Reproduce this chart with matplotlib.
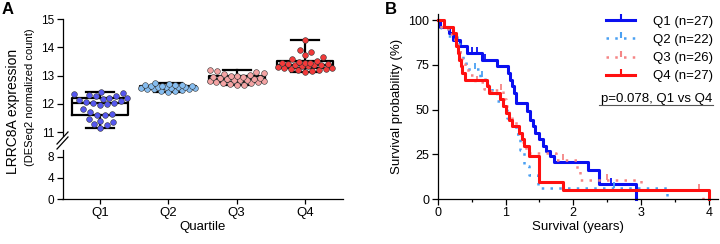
import numpy as np
import matplotlib
matplotlib.use("Agg")
import matplotlib.pyplot as plt
from matplotlib.lines import Line2D

plt.rcParams["font.family"] = ["Liberation Sans", "DejaVu Sans"]
plt.rcParams["font.size"] = 9

## Panel A data: LRRC8A expression per quartile
quartiles = ["Q1", "Q2", "Q3", "Q4"]
q1_expr = [11.14, 11.24, 11.27, 11.35, 11.40, 11.45, 11.60, 11.62, 11.65, 11.72,
           11.80, 11.95, 11.98, 12.02, 12.04, 12.06, 12.10, 12.15, 12.17, 12.19,
           12.21, 12.26, 12.28, 12.30, 12.33, 12.38, 12.42]
q2_expr = [12.42, 12.45, 12.47, 12.50, 12.51, 12.53, 12.54, 12.55, 12.56, 12.57,
           12.58, 12.59, 12.60, 12.61, 12.62, 12.63, 12.64, 12.65, 12.66, 12.68,
           12.70, 12.72]
q3_expr = [12.65, 12.68, 12.70, 12.72, 12.74, 12.76, 12.78, 12.80, 12.81, 12.83,
           12.84, 12.85, 12.86, 12.88, 12.90, 12.92, 12.94, 12.96, 12.98, 13.00,
           13.03, 13.06, 13.09, 13.12, 13.15, 13.18]
q4_expr = [13.12, 13.15, 13.18, 13.20, 13.22, 13.24, 13.26, 13.28, 13.30, 13.32,
           13.34, 13.36, 13.37, 13.38, 13.40, 13.41, 13.43, 13.44, 13.46, 13.48,
           13.52, 13.58, 13.66, 13.72, 13.85, 13.90, 14.26]
expr_colors = ["#5557ee", "#86bdf0", "#f4a3a3", "#f23a3a"]

## Panel B data: Kaplan-Meier steps (time in years, survival %)
q1_t = [0, 0.03, 0.17, 0.22, 0.33, 0.43, 0.65, 0.87, 1.04, 1.07, 1.10, 1.13, 1.16,
        1.31, 1.36, 1.40, 1.44, 1.49, 1.55, 1.60, 1.66, 1.71, 2.22, 2.38, 2.92]
q1_s = [100, 96.3, 92.6, 88.9, 85.2, 81.5, 77.8, 74.1, 70.4, 66.7, 63.0, 59.3, 53.5,
        48.9, 44.4, 40.7, 37.0, 33.3, 29.6, 27.0, 24.0, 20.4, 16.3, 8.2, 0]
q1_cens = [0.50, 0.58, 0.70, 1.05, 2.56]

q2_t = [0, 0.05, 0.15, 0.28, 0.33, 0.38, 0.42, 0.62, 0.70, 0.80, 0.88, 0.96, 1.02,
        1.10, 1.15, 1.22, 1.28, 1.34, 1.48, 3.38]
q2_s = [100, 95.5, 90.9, 86.4, 81.8, 77.3, 72.7, 68.2, 63.6, 59.1, 54.5, 50.0, 45.5,
        40.9, 36.4, 27.3, 18.2, 13.6, 6.1, 0]
q2_cens = [0.55, 0.65, 2.6]

q3_t = [0, 0.05, 0.15, 0.25, 0.30, 0.33, 0.36, 0.40, 0.45, 0.55, 0.68, 0.78, 0.85,
        0.96, 1.00, 1.05, 1.10, 1.15, 1.20, 1.25, 1.30, 1.75, 2.05, 2.10, 3.00, 3.92]
q3_s = [100, 96.2, 92.3, 88.5, 84.6, 80.8, 76.9, 73.1, 69.2, 65.4, 61.5, 59.6, 61.0,
        56.0, 52.0, 48.0, 44.0, 40.0, 36.0, 32.0, 25.5, 22.0, 17.0, 10.5, 5.2, 0]
q3_cens = [0.58, 0.93, 1.20, 1.85, 2.50, 3.85]

q4_t = [0, 0.10, 0.22, 0.27, 0.30, 0.32, 0.34, 0.36, 0.40, 0.72, 0.76, 0.92, 0.96,
        1.00, 1.05, 1.10, 1.20, 1.24, 1.28, 1.34, 1.49, 1.85, 4.0]
q4_s = [100, 96.3, 92.6, 85.2, 81.5, 77.8, 74.1, 70.4, 66.7, 63.0, 59.3, 55.6, 51.9,
        48.1, 44.4, 40.7, 37.0, 33.3, 29.6, 24.0, 9.6, 4.8, 0]
q4_cens = []

km_labels = ["Q1 (n=27)", "Q2 (n=22)", "Q3 (n=26)", "Q4 (n=27)"]
km_colors = ["#0a10f0", "#4aa0f2", "#f58585", "#ff1010"]
p_text = "p=0.078, Q1 vs Q4"

## upward censor tick
TICK = [(0, 0), (0, 1)]


def swarm_offsets(vals, xscale, yscale, min_d=7.0, max_w=27.0):
    ## greedy beeswarm in pixel space; falls back to the roomiest slot
    cands = [0.0]
    for k in np.arange(0.5, max_w + 0.01, 0.5):
        cands += [k, -k]
    placed = []
    offs = np.zeros(len(vals))
    for i in np.argsort(vals):
        y = vals[i] * yscale
        best, best_d = 0.0, -1
        for c in cands:
            if not placed:
                best = c
                break
            d = min(np.hypot(c - px, y - py) for px, py in placed)
            if d >= min_d:
                best = c
                break
            if d > best_d:
                best, best_d = c, d
        placed.append((best, y))
        offs[i] = best / xscale
    return offs


def step_value(t, s, x):
    i = np.searchsorted(t, x, side="right") - 1
    return s[max(i, 0)]


W, H = 720, 244
fig = plt.figure(figsize=(7.2, 2.44), dpi=100)

## ---- Panel A ----
left, right = 62.5 / W, 343 / W
ax_top = fig.add_axes([left, 1 - 136 / H, right - left, (136 - 19) / H])
ax_bot = fig.add_axes([left, 1 - 199 / H, right - left, (199 - 150) / H])
xlim = (-0.55, 3.56)

groups = [q1_expr, q2_expr, q3_expr, q4_expr]
ax_top.boxplot(groups, positions=range(4), widths=0.82, whis=(0, 100),
               showfliers=False, capwidths=0.41, manage_ticks=False,
               boxprops=dict(color="black", linewidth=1.6),
               whiskerprops=dict(color="black", linewidth=1.6),
               capprops=dict(color="black", linewidth=1.6),
               medianprops=dict(color="black", linewidth=1.6), zorder=2)

for a in (ax_top, ax_bot):
    a.set_xlim(*xlim)
    a.spines["top"].set_visible(False)
    a.spines["right"].set_visible(False)
    a.tick_params(length=4.5, width=0.9, pad=1.5, labelsize=8.5)
    for sp in a.spines.values():
        sp.set_linewidth(0.9)
ax_top.set_ylim(10.86, 15)
ax_top.set_yticks([11, 12, 13, 14, 15])
ax_top.spines["bottom"].set_visible(False)
ax_top.set_xticks([])
ax_bot.set_ylim(0, 9.33)
ax_bot.set_yticks([0, 4, 8])
ax_bot.set_xticks(range(4))
ax_bot.set_xticklabels(quartiles, fontsize=9.5)
ax_bot.tick_params(axis="x", length=3.5, pad=2.5)
ax_bot.set_xlabel("Quartile", fontsize=9.5, labelpad=1)

xscale = (right - left) * W / (xlim[1] - xlim[0])
yscale = (136 - 19) / (15 - 10.86)
for i, vals in enumerate(groups):
    vals = np.array(vals)
    offs = swarm_offsets(vals, xscale, yscale)
    ax_top.scatter(i + offs, vals, s=17, color=expr_colors[i],
                   edgecolor="#333333", linewidth=0.4, zorder=3)

## axis break marks
for dy in (0, 5):
    fig.add_artist(Line2D([57 / W, 68 / W], [1 - (149 - dy) / H, 1 - (137 - dy) / H],
                          color="black", lw=0.9))

fig.text(13 / W, 1 - 111 / H, "LRRC8A expression", rotation=90,
         ha="center", va="center", fontsize=10)
fig.text(30 / W, 1 - 97 / H, "(DESeq2 normalized count)", rotation=90,
         ha="center", va="center", fontsize=8)
fig.text(2 / W, 1 - 2 / H, "A", fontsize=12, fontweight="bold", va="top")

## ---- Panel B ----
bl, br = 437.7 / W, 718 / W
axb = fig.add_axes([bl, 1 - 199 / H, br - bl, (199 - 14) / H])
axb.set_xlim(0, (718 - 437.7) / 67.8)
axb.set_ylim(0, 100 * (199 - 14) / (199 - 20))
axb.spines["top"].set_visible(False)
axb.spines["right"].set_visible(False)
for sp in axb.spines.values():
    sp.set_linewidth(0.9)
axb.set_xticks([0, 1, 2, 3, 4])
axb.set_xticks(np.arange(0.5, 4, 1), minor=True)
axb.set_yticks([0, 25, 50, 75, 100])
axb.tick_params(length=4, width=0.9, pad=2, labelsize=9)
axb.tick_params(which="minor", length=2.5, width=0.9)
axb.set_xlabel("Survival (years)", fontsize=9.5, labelpad=1)
axb.set_ylabel("Survival probability (%)", fontsize=9.5, labelpad=4)

km = [(q1_t, q1_s, q1_cens), (q2_t, q2_s, q2_cens),
      (q3_t, q3_s, q3_cens), (q4_t, q4_s, q4_cens)]
styles = ["-", (0, (1, 2.5)), (0, (1, 2.5)), "-"]
widths = [2.2, 1.8, 1.8, 2.2]
handles = []
for (t, s, cens), col, ls, lw, lab in zip(km, km_colors, styles, widths, km_labels):
    axb.step(t, s, where="post", color=col, ls=ls, lw=lw, clip_on=False)
    cy = [step_value(t, s, c) for c in cens]
    axb.plot(cens, cy, ls="none", marker=TICK, ms=8, mew=1.3, color=col)
    handles.append(Line2D([], [], color=col, ls=ls, lw=lw, marker=TICK,
                          ms=9, mew=1.5, label=lab))

axb.legend(handles=handles, loc="upper right", frameon=False, fontsize=9.5,
           handlelength=2.2, handletextpad=1.3, labelspacing=0.45,
           bbox_to_anchor=(1.0, 1.02), borderaxespad=0)
axb.text(1 - 6 / ((br - bl) * W), 1 - (99 - 14) / 185, p_text, transform=axb.transAxes,
         ha="right", va="center", fontsize=9.5)
fig.add_artist(Line2D([599 / W, 713 / W], [1 - 105 / H, 1 - 105 / H],
                      color="#555555", lw=0.8))
fig.text(385 / W, 1 - 2 / H, "B", fontsize=12, fontweight="bold", va="top")

plt.savefig("out.png", dpi=100)
